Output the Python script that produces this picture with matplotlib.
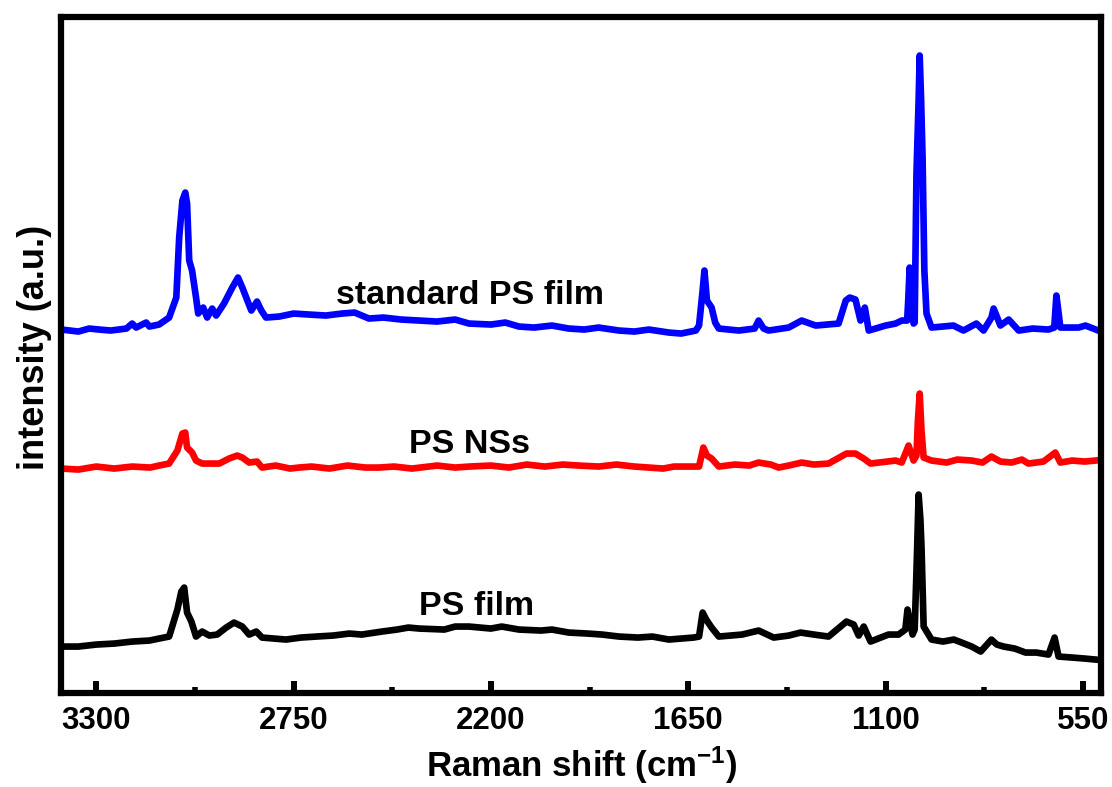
import matplotlib
matplotlib.use('Agg')
import matplotlib.pyplot as plt
from matplotlib.ticker import MultipleLocator

# ---- data (Raman shift in cm-1, intensity in a.u., curves already offset) ----
std_shift = [3397, 3350, 3320, 3292, 3260, 3216, 3200, 3189, 3161, 3152,
             3125, 3097, 3077, 3069, 3060, 3052, 3047, 3041, 3033, 3022,
             3016, 3002, 2991, 2977, 2966, 2944, 2921, 2905, 2893, 2868,
             2852, 2840, 2827, 2790, 2750, 2707, 2660, 2615, 2580, 2540,
             2500, 2450, 2400, 2350, 2300, 2261, 2200, 2160, 2122, 2080,
             2030, 1983, 1940, 1900, 1843, 1800, 1760, 1704, 1670, 1629,
             1620, 1610, 1605, 1598, 1585, 1575, 1565, 1509, 1465, 1454,
             1440, 1426, 1370, 1334, 1295, 1231, 1211, 1200, 1184, 1170,
             1158, 1147, 1100, 1072, 1055, 1040, 1037, 1033, 1028, 1022,
             1019, 1014, 1008, 1005, 1001, 997, 992, 986, 972, 911,
             883, 847, 827, 805, 799, 780, 757, 729, 690, 646,
             630, 624, 618, 613, 562, 543, 507]
std_int = [363, 361, 364, 363, 362, 364, 369, 365, 370, 366,
           368, 375, 395, 455, 492, 500, 489, 432, 422, 395,
           379, 385, 375, 384, 377, 389, 405, 415, 405, 382,
           391, 382, 375, 376, 379, 378, 377, 379, 380, 374,
           375, 373, 372, 371, 373, 369, 368, 370, 366, 365,
           367, 364, 363, 365, 362, 361, 363, 360, 359, 362,
           367, 402, 422, 392, 385, 370, 364, 362, 364, 372,
           364, 362, 365, 372, 367, 369, 392, 395, 393, 372,
           385, 362, 367, 369, 372, 372, 392, 425, 392, 369,
           370, 519, 592, 637, 592, 535, 422, 379, 365, 367,
           362, 369, 362, 375, 384, 367, 373, 362, 364, 363,
           365, 397, 380, 365, 365, 367, 362]

ns_shift = [3397, 3350, 3300, 3250, 3200, 3150, 3125, 3097, 3074, 3060,
            3052, 3047, 3033, 3022, 3005, 2977, 2957, 2930, 2907, 2893,
            2874, 2852, 2838, 2800, 2760, 2735, 2700, 2650, 2600, 2550,
            2512, 2470, 2420, 2350, 2300, 2261, 2200, 2150, 2100, 2050,
            2000, 1955, 1900, 1850, 1800, 1760, 1720, 1690, 1649, 1620,
            1608, 1598, 1585, 1565, 1520, 1480, 1454, 1420, 1398, 1370,
            1334, 1300, 1259, 1209, 1184,
            1161, 1142, 1072, 1055, 1036, 1022, 1014, 1010, 1005, 1000,
            994, 972, 930, 900, 860, 830, 805, 780, 749, 720,
            702, 660, 627, 613, 580, 545, 515]
ns_int = [224, 223, 226, 224, 226, 225, 227, 229, 242, 259,
          260, 245, 240, 232, 229, 229, 229, 234, 237, 235,
          230, 231, 225, 227, 224, 225, 226, 224, 227, 225,
          225, 226, 224, 227, 225, 226, 227, 225, 228, 226,
          228, 227, 226, 228, 226, 225, 224, 226, 226, 226,
          245, 237, 234, 226, 228, 227, 230, 228, 225, 227,
          230, 228, 229, 239, 239,
          234, 229, 232, 230, 247, 232, 237, 272, 299, 262,
          235, 232, 230, 233, 232, 230, 236, 231, 230, 233,
          229, 231, 240, 230, 232, 231, 232]

film_shift = [3397, 3350, 3300, 3250, 3200, 3152, 3125, 3097, 3074, 3063,
              3055, 3047, 3035, 3022, 3005, 2985, 2963, 2938, 2916, 2893,
              2874, 2854, 2838, 2771, 2730, 2687, 2640, 2595, 2560, 2504,
              2462, 2430, 2400, 2330, 2300, 2261, 2200, 2170, 2122, 2060,
              2030, 1983, 1930, 1890, 1843, 1790, 1750, 1704, 1670, 1635,
              1620, 1610, 1600, 1585, 1565, 1500, 1454, 1412, 1370, 1337,
              1300, 1259, 1209, 1189, 1175, 1161, 1142, 1092, 1064, 1045,
              1039, 1025, 1019, 1013, 1008, 1003, 1000, 994, 972, 940,
              910, 888, 860, 835, 805, 790, 771, 740, 710, 680,
              646, 629, 618, 580, 545, 515]
film_int = [46, 46, 48, 49, 51, 52, 54, 56, 83, 101,
            105, 80, 71, 56, 61, 57, 58, 65, 70, 66,
            58, 61, 55, 53, 55, 56, 57, 59, 58, 61,
            63, 65, 64, 63, 66, 66, 64, 66, 63, 62,
            63, 60, 59, 58, 56, 55, 56, 53, 54, 55,
            56, 80, 73, 65, 56, 58, 62, 55, 57, 60,
            58, 56, 71, 68, 57, 66, 51, 58, 58, 63,
            83, 58, 63, 133, 198, 173, 146, 66, 53, 51,
            53, 50, 46, 41, 53, 48, 46, 44, 40, 40,
            38, 55, 36, 35, 34, 33]

curve_labels = ['standard PS film', 'PS NSs', 'PS film']
label_pos = [(2258, 389), (2261, 240), (2239, 78)]
x_ticks = [3300, 2750, 2200, 1650, 1100, 550]

plt.rcParams['font.family'] = ['Liberation Sans', 'DejaVu Sans']
plt.rcParams['font.weight'] = 'bold'
plt.rcParams['mathtext.fontset'] = 'custom'
plt.rcParams['mathtext.rm'] = 'Liberation Sans:bold'
plt.rcParams['mathtext.bf'] = 'Liberation Sans:bold'
plt.rcParams['mathtext.default'] = 'bf'

fig = plt.figure(figsize=(11.12, 7.87), dpi=100)
ax = fig.add_axes([0.0553, 0.120, 0.9347, 0.859])

ax.plot(std_shift, std_int, color='#0000FF', lw=4.8, solid_joinstyle='round')
ax.plot(ns_shift, ns_int, color='#FF0000', lw=4.8, solid_joinstyle='round')
ax.plot(film_shift, film_int, color='black', lw=4.8, solid_joinstyle='round')

for txt, (xx, yy) in zip(curve_labels, label_pos):
    ax.text(xx, yy, txt, ha='center', va='baseline', fontsize=24.5, fontweight='bold')

ax.set_xlim(3397, 500)
ax.set_ylim(0, 676)
ax.set_xticks(x_ticks)
ax.xaxis.set_minor_locator(MultipleLocator(275))
ax.set_yticks([])

for sp in ax.spines.values():
    sp.set_linewidth(4.5)

ax.tick_params(axis='x', which='major', direction='in', length=8.3, width=4.3,
               labelsize=22.5, pad=10)
ax.tick_params(axis='x', which='minor', direction='in', length=4, width=4)
for lab in ax.get_xticklabels():
    lab.set_fontweight('bold')

ax.set_xlabel(r'Raman shift (cm$^{-1}$)', fontsize=25, fontweight='bold', labelpad=6)
ax.set_ylabel('intensity (a.u.)', fontsize=26, fontweight='bold')
ax.yaxis.set_label_coords(-0.009, 0.511)

fig.savefig('out.png', dpi=100)
